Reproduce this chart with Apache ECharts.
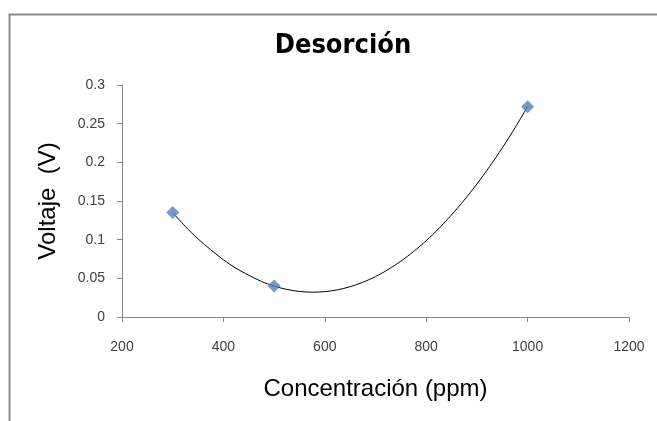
<!DOCTYPE html>
<html><head><meta charset="utf-8">
<script src="https://cdn.jsdelivr.net/npm/echarts@6/dist/echarts.min.js"></script>
<style>html,body{margin:0;padding:0;background:#fff}#c{width:657px;height:421px}</style>
</head><body><div id="c"></div>
<script>
// measured points
const concX = [300, 500, 1000];
const voltY = [0.135, 0.040, 0.272];
// trendline
const trendX = [300, 325, 350, 375, 400, 425, 450, 475, 500, 525, 550, 575, 600, 625, 650, 675, 700, 725, 750, 775, 800, 825, 850, 875, 900, 925, 950, 975, 1000];
const trendY = [0.135, 0.117, 0.101, 0.087, 0.074, 0.063, 0.054, 0.046, 0.040, 0.0357, 0.0330, 0.0321, 0.0328, 0.0351, 0.0392, 0.0449, 0.0523, 0.0614, 0.0722, 0.0846, 0.0987, 0.1145, 0.1320, 0.1512, 0.1720, 0.1945, 0.2186, 0.2445, 0.272];
const xTicks = [200, 400, 600, 800, 1000, 1200];
const yTicks = [0, 0.05, 0.1, 0.15, 0.2, 0.25, 0.3];

const chart = echarts.init(document.getElementById('c'), null, {renderer: 'canvas'});
const axisCol = '#868686';
const lblFont = {color: '#404040', fontFamily: 'Liberation Sans, sans-serif', fontSize: 14};
chart.setOption({
  animation: false,
  backgroundColor: '#fff',
  graphic: [{type: 'rect', shape: {x: 9.5, y: 14.5, width: 700, height: 500}, style: {fill: 'none', stroke: '#8c8c8c', lineWidth: 2}, silent: true}],
  title: {text: 'Desorción', left: 338, top: 27, textAlign: 'center',
    textStyle: {fontFamily: 'DejaVu Sans Condensed, Liberation Sans Narrow, Liberation Sans, sans-serif', fontWeight: 'bold', fontSize: 27, color: '#000'}},
  grid: {left: 122, right: 28, top: 85, bottom: 104, containLabel: false},
  xAxis: {type: 'value', min: xTicks[0], max: xTicks[xTicks.length - 1], interval: 200,
    name: 'Concentración (ppm)', nameLocation: 'middle', nameGap: 60,
    nameTextStyle: {fontFamily: 'Liberation Sans, sans-serif', fontSize: 24, color: '#000'},
    axisLine: {lineStyle: {color: axisCol}}, axisTick: {inside: false, length: 5, lineStyle: {color: axisCol}},
    splitLine: {show: false}, axisLabel: Object.assign({margin: 23, formatter: v => String(v)}, lblFont)},
  yAxis: {type: 'value', min: yTicks[0], max: yTicks[yTicks.length - 1], interval: 0.05,
    name: 'Voltaje  (V)', nameLocation: 'middle', nameGap: 62, nameRotate: 90,
    nameTextStyle: {fontFamily: 'Liberation Sans, sans-serif', fontSize: 24, color: '#000'},
    axisLine: {show: true, lineStyle: {color: axisCol}}, axisTick: {show: true, length: 5, lineStyle: {color: axisCol}},
    splitLine: {show: false}, axisLabel: Object.assign({margin: 17, formatter: v => String(v)}, lblFont)},
  series: [
    {type: 'line', data: trendX.map((x, i) => [x, trendY[i]]), smooth: 0.3, showSymbol: false,
      lineStyle: {color: '#000', width: 1}, z: 2},
    {type: 'scatter', data: concX.map((x, i) => [x, voltY[i]]), symbol: 'diamond', symbolSize: 13,
      itemStyle: {color: '#4F81BD'}, z: 3}
  ]
});
</script></body></html>
